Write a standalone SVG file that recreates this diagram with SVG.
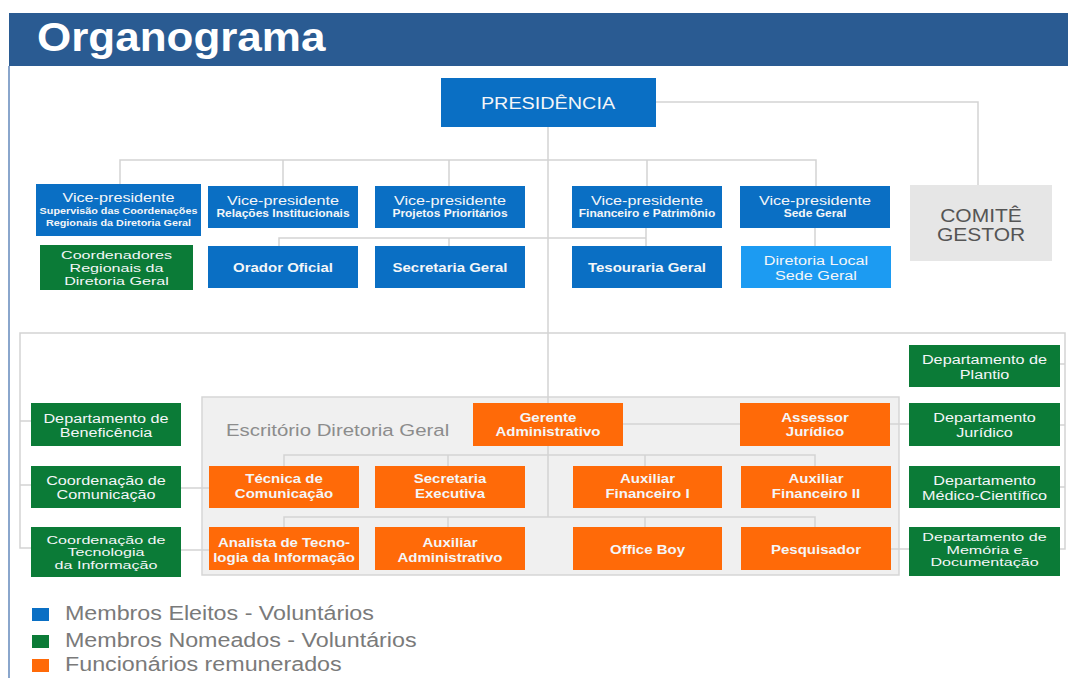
<svg xmlns="http://www.w3.org/2000/svg" width="1068" height="678" viewBox="0 0 1068 678">
<style>
.t{font-family:"Liberation Sans",Arial,sans-serif;text-anchor:middle;fill:#f4f6f8}
.r{font-size:13.5px}
.r3{font-size:11.5px}
.b{font-size:12.5px;font-weight:bold}
.s{font-size:10px;font-weight:bold}
.s9{font-size:9px;font-weight:bold}
.blue{fill:#0a6fc4}
.lblue{fill:#1c9bf2}
.green{fill:#0b7b37}
.orange{fill:#ff6a08}
.lg{font-family:"Liberation Sans",Arial,sans-serif;font-size:19.4px;fill:#7a7a7a}
</style>
<rect width="1068" height="678" fill="#ffffff"/>
<g id="header">
<rect x="9" y="13" width="1059" height="53" fill="#2a5b92"/>
<line x1="9" y1="66" x2="9" y2="678" stroke="#8aa6cc" stroke-width="2"/>
<text transform="matrix(1.1 0 0 1 37 0)" x="0" y="51" font-family="Liberation Sans, Arial, sans-serif" font-size="40" font-weight="bold" fill="#ffffff">Organograma</text>
</g>
<g id="escritorio">
<rect x="202" y="397" width="697" height="178" fill="#f0f0f0" stroke="#d6d6d6" stroke-width="1.5"/>
<text transform="matrix(1.2 0 0 1 226 0)" x="0" y="436" font-family="Liberation Sans, Arial, sans-serif" font-size="17" fill="#8c8c8c">Escritório Diretoria Geral</text>
</g>
<g id="connectors" fill="none" stroke="#d3d3d3" stroke-width="1.5">
<path d="M548 127 V517"/>
<path d="M656 102 H978 V185"/>
<path d="M120 184 V160 H816 V186 M283 160 V186 M449 160 V186 M647 160 V186"/>
<path d="M279 246 V238 H646 M646 228 V247 M449 238 V246 M815 228 V247"/>
<path d="M31 548 H20 V333 H1065 V549 H1060 M20 421 H31 M20 485 H31 M1060 364 H1065 M1060 425 H1065 M1060 487 H1065"/>
<path d="M181 488 H209 M181 550 H209 M891 549 H909"/>
<path d="M622 424 H740 M890 424 H909"/>
<path d="M284 466 V455 H815 V466 M448 455 V466 M645 455 V466"/>
<path d="M284 527 V517 H815 V527 M448 517 V527 M645 517 V527"/>
</g>
<g id="presidencia"><rect class="blue" x="441" y="78" width="215" height="49"/>
<text class="t" transform="matrix(1.2 0 0 1 548 0)" font-size="16.5"><tspan x="0" y="109">PRESIDÊNCIA</tspan></text></g>
<g id="vp-supervisao"><rect class="blue" x="36" y="184" width="165" height="52"/>
<text class="t" transform="matrix(1.2 0 0 1 118.5 0)"><tspan class="r" x="0" y="202">Vice-presidente</tspan><tspan class="s9" x="0" y="214.5">Supervisão das Coordenações</tspan><tspan class="s9" x="0" y="226">Regionais da Diretoria Geral</tspan></text></g>
<g id="vp-relacoes"><rect class="blue" x="208" y="186" width="150" height="42"/>
<text class="t" transform="matrix(1.2 0 0 1 283 0)"><tspan class="r" x="0" y="205">Vice-presidente</tspan><tspan class="s" x="0" y="217">Relações Institucionais</tspan></text></g>
<g id="vp-projetos"><rect class="blue" x="375" y="186" width="150" height="42"/>
<text class="t" transform="matrix(1.2 0 0 1 450 0)"><tspan class="r" x="0" y="205">Vice-presidente</tspan><tspan class="s" x="0" y="217">Projetos Prioritários</tspan></text></g>
<g id="vp-financeiro"><rect class="blue" x="572" y="186" width="150" height="42"/>
<text class="t" transform="matrix(1.2 0 0 1 647 0)"><tspan class="r" x="0" y="205">Vice-presidente</tspan><tspan class="s" x="0" y="217">Financeiro e Patrimônio</tspan></text></g>
<g id="vp-sede"><rect class="blue" x="740" y="186" width="150" height="42"/>
<text class="t" transform="matrix(1.2 0 0 1 815 0)"><tspan class="r" x="0" y="205">Vice-presidente</tspan><tspan class="s" x="0" y="217">Sede Geral</tspan></text></g>
<g id="comite"><rect x="910" y="185" width="142" height="76" fill="#e6e6e6"/>
<text class="t" transform="matrix(1.2 0 0 1 981 0)" font-size="17.5" style="fill:#555"><tspan x="0" y="222">COMITÊ</tspan><tspan x="0" y="241">GESTOR</tspan></text></g>
<g id="coordenadores-regionais"><rect class="green" x="40" y="245" width="153" height="45"/>
<text class="t r3" transform="matrix(1.4 0 0 1 116.5 0)"><tspan x="0" y="259.5">Coordenadores</tspan><tspan x="0" y="272.5">Regionais da</tspan><tspan x="0" y="285.5">Diretoria Geral</tspan></text></g>
<g id="orador"><rect class="blue" x="208" y="246" width="150" height="42"/>
<text class="t b" transform="matrix(1.2 0 0 1 283 0)"><tspan x="0" y="272">Orador Oficial</tspan></text></g>
<g id="secretaria-geral"><rect class="blue" x="375" y="246" width="150" height="42"/>
<text class="t b" transform="matrix(1.2 0 0 1 450 0)"><tspan x="0" y="272">Secretaria Geral</tspan></text></g>
<g id="tesouraria"><rect class="blue" x="572" y="246" width="150" height="42"/>
<text class="t b" transform="matrix(1.2 0 0 1 647 0)"><tspan x="0" y="272">Tesouraria Geral</tspan></text></g>
<g id="diretoria-local"><rect class="lblue" x="741" y="246" width="150" height="42"/>
<text class="t r" transform="matrix(1.2 0 0 1 816 0)"><tspan x="0" y="265">Diretoria Local</tspan><tspan x="0" y="280">Sede Geral</tspan></text></g>
<g id="dep-beneficencia"><rect class="green" x="31" y="403" width="150" height="43"/>
<text class="t r" transform="matrix(1.2 0 0 1 106 0)"><tspan x="0" y="423">Departamento de</tspan><tspan x="0" y="437">Beneficência</tspan></text></g>
<g id="coord-comunicacao"><rect class="green" x="31" y="466" width="150" height="42"/>
<text class="t r" transform="matrix(1.2 0 0 1 106 0)"><tspan x="0" y="485">Coordenação de</tspan><tspan x="0" y="499">Comunicação</tspan></text></g>
<g id="coord-tecnologia"><rect class="green" x="31" y="527" width="150" height="50"/>
<text class="t r3" transform="matrix(1.4 0 0 1 106 0)"><tspan x="0" y="544">Coordenação de</tspan><tspan x="0" y="556.5">Tecnologia</tspan><tspan x="0" y="569">da Informação</tspan></text></g>
<g id="gerente"><rect class="orange" x="473" y="403" width="150" height="43"/>
<text class="t b" transform="matrix(1.2 0 0 1 548 0)"><tspan x="0" y="422">Gerente</tspan><tspan x="0" y="436">Administrativo</tspan></text></g>
<g id="assessor"><rect class="orange" x="740" y="403" width="150" height="43"/>
<text class="t b" transform="matrix(1.2 0 0 1 815 0)"><tspan x="0" y="422">Assessor</tspan><tspan x="0" y="436">Jurídico</tspan></text></g>
<g id="tecnica"><rect class="orange" x="209" y="466" width="150" height="42"/>
<text class="t b" transform="matrix(1.2 0 0 1 284 0)"><tspan x="0" y="483">Técnica de</tspan><tspan x="0" y="498">Comunicação</tspan></text></g>
<g id="secretaria-executiva"><rect class="orange" x="375" y="466" width="150" height="42"/>
<text class="t b" transform="matrix(1.2 0 0 1 450 0)"><tspan x="0" y="483">Secretaria</tspan><tspan x="0" y="498">Executiva</tspan></text></g>
<g id="aux-financeiro-1"><rect class="orange" x="573" y="466" width="149" height="42"/>
<text class="t b" transform="matrix(1.2 0 0 1 647.5 0)"><tspan x="0" y="483">Auxiliar</tspan><tspan x="0" y="498">Financeiro I</tspan></text></g>
<g id="aux-financeiro-2"><rect class="orange" x="741" y="466" width="150" height="42"/>
<text class="t b" transform="matrix(1.2 0 0 1 816 0)"><tspan x="0" y="483">Auxiliar</tspan><tspan x="0" y="498">Financeiro II</tspan></text></g>
<g id="analista"><rect class="orange" x="209" y="527" width="150" height="43"/>
<text class="t b" transform="matrix(1.2 0 0 1 284 0)"><tspan x="0" y="547">Analista de Tecno-</tspan><tspan x="0" y="562">logia da Informação</tspan></text></g>
<g id="aux-administrativo"><rect class="orange" x="375" y="527" width="150" height="43"/>
<text class="t b" transform="matrix(1.2 0 0 1 450 0)"><tspan x="0" y="547">Auxiliar</tspan><tspan x="0" y="562">Administrativo</tspan></text></g>
<g id="office-boy"><rect class="orange" x="573" y="527" width="149" height="43"/>
<text class="t b" transform="matrix(1.2 0 0 1 647.5 0)"><tspan x="0" y="554">Office Boy</tspan></text></g>
<g id="pesquisador"><rect class="orange" x="741" y="527" width="150" height="43"/>
<text class="t b" transform="matrix(1.2 0 0 1 816 0)"><tspan x="0" y="554">Pesquisador</tspan></text></g>
<g id="dep-plantio"><rect class="green" x="909" y="345" width="151" height="42"/>
<text class="t r" transform="matrix(1.2 0 0 1 984.5 0)"><tspan x="0" y="364">Departamento de</tspan><tspan x="0" y="379">Plantio</tspan></text></g>
<g id="dep-juridico"><rect class="green" x="909" y="403" width="151" height="43"/>
<text class="t r" transform="matrix(1.2 0 0 1 984.5 0)"><tspan x="0" y="422">Departamento</tspan><tspan x="0" y="437">Jurídico</tspan></text></g>
<g id="dep-medico"><rect class="green" x="909" y="466" width="151" height="42"/>
<text class="t r" transform="matrix(1.2 0 0 1 984.5 0)"><tspan x="0" y="485">Departamento</tspan><tspan x="0" y="500">Médico-Científico</tspan></text></g>
<g id="dep-memoria"><rect class="green" x="909" y="527" width="151" height="49"/>
<text class="t r3" transform="matrix(1.4 0 0 1 984.5 0)"><tspan x="0" y="541.5">Departamento de</tspan><tspan x="0" y="554">Memória e</tspan><tspan x="0" y="566.5">Documentação</tspan></text></g>
<g id="legend">
<rect x="32" y="608" width="17" height="13" fill="#0a6fc4"/>
<rect x="32" y="635" width="17" height="13" fill="#0b7b37"/>
<rect x="32" y="659" width="17" height="13" fill="#ff6a08"/>
<text class="lg" transform="matrix(1.2 0 0 1 65 0)"><tspan x="0" y="620">Membros Eleitos - Voluntários</tspan><tspan x="0" y="647">Membros Nomeados - Voluntários</tspan><tspan x="0" y="671">Funcionários remunerados</tspan></text>
</g>
</svg>
